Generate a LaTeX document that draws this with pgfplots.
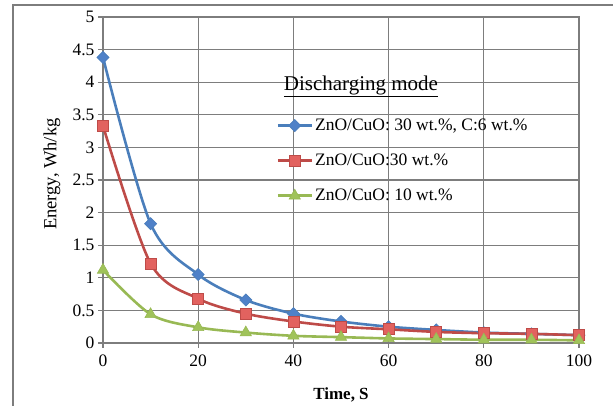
\documentclass[border=0pt]{standalone}
\usepackage{fontspec}
\setmainfont{Liberation Serif}
\usepackage{pgfplots}
\pgfplotsset{compat=1.18}

\definecolor{ExBlue}{RGB}{74,126,187}
\definecolor{ExBlueFill}{RGB}{79,129,200}
\definecolor{ExRed}{RGB}{190,75,72}
\definecolor{ExRedFill}{RGB}{226,98,95}
\definecolor{ExGreen}{RGB}{152,185,84}
\definecolor{ExGreenFill}{RGB}{160,195,90}
\definecolor{GridGray}{RGB}{125,125,125}

\begin{document}
\begin{tikzpicture}
\useasboundingbox (-103pt,-63pt) rectangle (510pt,343pt);
% outer chart frame
\draw[GridGray, line width=1.2pt] (-90pt,-63pt) -- (-90pt,338pt) -- (512pt,338pt);

\begin{axis}[
  scale only axis,
  width=476pt, height=326pt,
  xmin=0, xmax=100, ymin=0, ymax=5,
  xtick={0,20,...,100},
  ytick={0,0.5,...,5},
  grid=major,
  grid style={GridGray, line width=1.3pt},
  axis line style={GridGray, line width=1.3pt},
  tick style={GridGray, line width=1.3pt},
  tick align=outside,
  major tick length=5pt,
  xtick pos=bottom, ytick pos=left,
  /pgf/number format/assume math mode=true,
  tick label style={font=\fontsize{17.5}{20}\selectfont},
  xticklabel style={yshift=-3pt},
  xlabel={\textbf{Time, S}},
  ylabel={Energy, Wh/kg},
  xlabel style={font=\fontsize{17}{20}\selectfont, at={(axis description cs:0.5,-0.16)}, anchor=center},
  ylabel style={font=\fontsize{18.5}{21}\selectfont, at={(axis description cs:-0.107,0.518)}, anchor=center, rotate=0},
  legend style={draw=none, fill=none, at={(rel axis cs:0.364,0.694)}, anchor=north west,
    font=\fontsize{17.5}{20}\selectfont, row sep=18pt, inner sep=0pt},
  legend cell align=left,
  legend image code/.code={\draw[mark repeat=2, mark phase=2, #1] plot coordinates {(0pt,0pt) (17pt,0pt) (34pt,0pt)};},
]

\addplot[ExBlue, line width=2.6pt, smooth, mark=square*, mark size=4.3pt,
  mark options={rotate=45, fill=ExBlueFill, draw=ExBlue, line width=0.6pt}] coordinates {
  (0,4.38)(10,1.83)(20,1.05)(30,0.66)(40,0.45)(50,0.33)
  (60,0.25)(70,0.20)(80,0.16)(90,0.14)(100,0.12)
};
\addlegendentry{ZnO/CuO: 30 wt.\%, C:6 wt.\%}

\addplot[ExRed, line width=2.6pt, smooth, mark=square*, mark size=5.5pt,
  mark options={fill=ExRedFill, draw=ExRed, line width=0.8pt}] coordinates {
  (0,3.33)(10,1.22)(20,0.68)(30,0.45)(40,0.33)(50,0.25)
  (60,0.21)(70,0.17)(80,0.15)(90,0.14)(100,0.12)
};
\addlegendentry{ZnO/CuO:30 wt.\%}

\addplot[ExGreen, line width=2.6pt, smooth, mark=triangle*, mark size=6.5pt,
  mark options={fill=ExGreenFill, draw=ExGreen, line width=0.6pt}] coordinates {
  (0,1.12)(10,0.44)(20,0.24)(30,0.16)(40,0.11)(50,0.09)
  (60,0.07)(70,0.06)(80,0.05)(90,0.05)(100,0.04)
};
\addlegendentry{ZnO/CuO: 10 wt.\%}

\node[anchor=base, font=\fontsize{21}{25}\selectfont] at (axis cs:54.2,3.87) {\underline{Discharging mode}};
\end{axis}
\end{tikzpicture}
\end{document}
